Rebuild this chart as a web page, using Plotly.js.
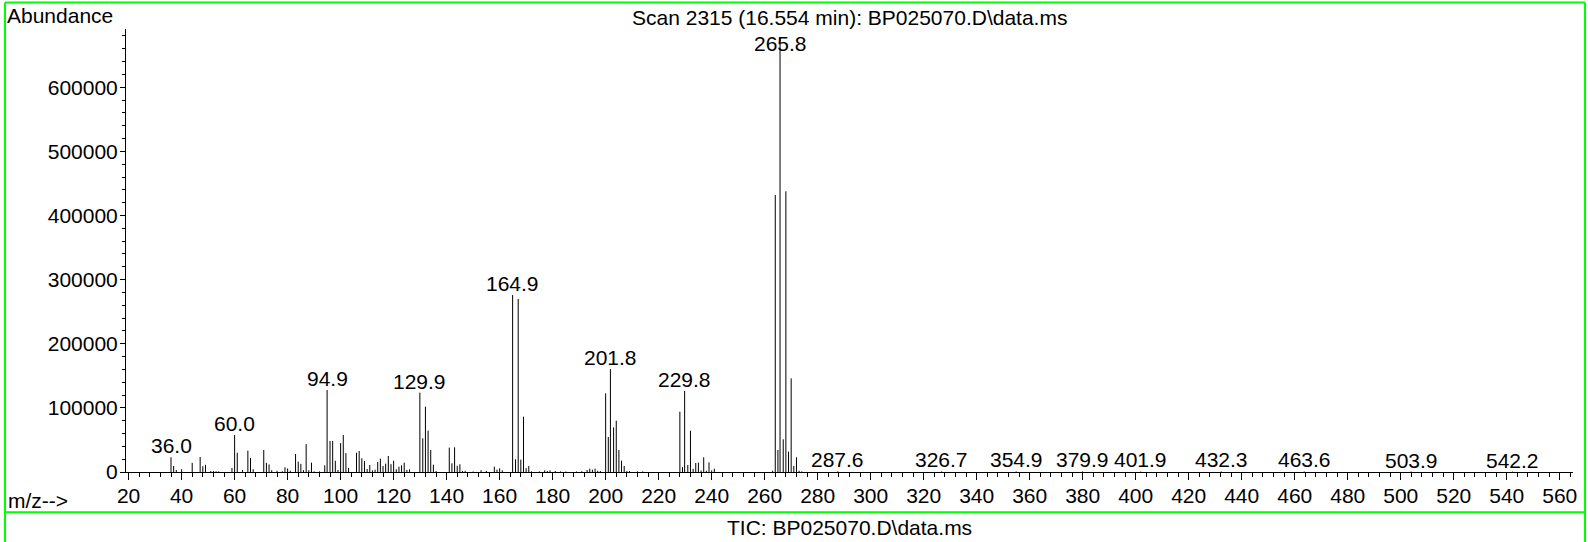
<!DOCTYPE html>
<html>
<head>
<meta charset="utf-8">
<script src="https://cdn.plot.ly/plotly-3.0.1.min.js"></script>
<style>
html,body{margin:0;padding:0;background:#fff;}
#chart{width:1588px;height:542px;}
</style>
</head>
<body>
<div id="chart"></div>
<script>
// m/z values of the spectrum sticks
const mz = [
  36.0, 37, 38, 40, 44, 47, 48, 49, 51, 52, 53, 54,
  59, 60.0, 61, 63, 65, 66, 67, 71, 72, 73, 74, 76, 78, 79, 80, 81, 83, 84, 85, 86, 87, 88, 89, 90, 92,
  94, 94.9, 96, 97, 98, 99, 100, 101, 102, 103, 106, 107, 108, 109, 110, 111, 112, 113, 114, 115, 116,
  117, 118, 119, 120, 121, 122, 123, 124, 125, 126,
  129.9, 131, 132, 133, 134, 135, 136, 141, 142, 143, 144, 145, 146, 147, 150, 153, 155, 158, 159, 160, 161,
  164.9, 166, 167, 168, 169, 170, 171, 172, 175, 177, 178, 179, 181, 183, 185, 189, 191,
  193, 194, 195, 196, 197, 198,
  200, 201, 201.8, 203, 204, 205, 206, 207, 208, 209, 212, 214,
  228, 229, 229.8, 231, 232, 233, 234, 235, 236, 237, 238, 239, 240, 241,
  263, 264, 265, 265.8, 267, 268, 269, 270, 271, 272, 273, 274,
  287.6, 326.7, 354.9, 379.9, 401.9, 432.3, 463.6, 503.9, 542.2
];
// abundance of each stick
const abundance = [
  23000, 9400, 3000, 4200, 14300, 23400, 9000, 11200, 1500, 1500, 1200, 1000,
  6200, 57700, 30000, 3100, 33300, 21800, 4400, 34300, 14300, 11700, 2800, 2000, 1200, 7300, 5500, 2000, 28000, 16100, 12700, 2800, 43500, 2800, 14600, 1000, 1000,
  10400, 128000, 48400, 48400, 17500, 3100, 45000, 57700, 29400, 6500, 30000, 32800, 21300, 17200, 4700, 10900, 2600, 3600, 15600, 20800, 9400,
  13000, 25000, 12200, 17500, 4200, 8300, 10400, 14600, 3100, 4200,
  123800, 52500, 101900, 64500, 34300, 11400, 1500, 38000, 13500, 38500, 9700, 12000, 1800, 1800, 800, 2900, 1800, 8300, 3600, 5700, 2600,
  276000, 19800, 270000, 19300, 86300, 6000, 9400, 1000, 1000, 2600, 1500, 2600, 1600, 1000, 800, 800, 1200,
  3100, 5200, 3600, 5200, 2000, 1500,
  122700, 54500, 160500, 69500, 80000, 34300, 17700, 9400, 1600, 1600, 1000, 1000,
  94000, 7500, 126600, 10900, 64300, 5000, 14000, 14600, 2500, 22900, 2000, 15000, 2500, 5000,
  2000, 432000, 34300, 677000, 51000, 437800, 31700, 146000, 9400, 22900, 2000, 1000,
  1000, 900, 900, 900, 800, 800, 800, 700, 700
];
// sticks that carry an m/z label
const labeledPeaks = [36.0, 60.0, 94.9, 129.9, 164.9, 201.8, 229.8, 265.8, 287.6, 326.7, 354.9, 379.9, 401.9, 432.3, 463.6, 503.9, 542.2];
const yTickVals = [0, 100000, 200000, 300000, 400000, 500000, 600000];
const xTickVals = [20, 40, 60, 80, 100, 120, 140, 160, 180, 200, 220, 240, 260, 280, 300, 320, 340, 360, 380, 400, 420, 440, 460, 480, 500, 520, 540, 560];

const titleText = 'Scan 2315 (16.554 min): BP025070.D\\data.ms';
const ticText = 'TIC: BP025070.D\\data.ms';

const FONT = 'Liberation Sans, Arial, sans-serif';
const W = 1588, H = 542;
const L = 126, R = 1573, T = 29, B = 472;
const pw = R - L, ph = B - T;
const px = v => (v - L) / pw;
const py = v => (B - v) / ph;

// stick segments
const sx = [], sy = [];
mz.forEach((m, i) => { sx.push(m, m, null); sy.push(0, abundance[i], null); });

const LABEL_CAP = 650000;
const annotations = labeledPeaks.map(m => {
  const i = mz.indexOf(m);
  return {
    x: m, y: Math.min(abundance[i], LABEL_CAP), xref: 'x', yref: 'y',
    text: m.toFixed(1), showarrow: false, xanchor: 'center', yanchor: 'bottom',
    yshift: -2, font: {family: FONT, size: 21, color: '#000'}
  };
});
annotations.push(
  {x: px(5), y: py(15), xref: 'paper', yref: 'paper', text: 'Abundance', showarrow: false,
   xanchor: 'left', yanchor: 'middle', font: {family: FONT, size: 21, color: '#000'}},
  {x: px(6), y: py(501), xref: 'paper', yref: 'paper', text: 'm/z-->', showarrow: false,
   xanchor: 'left', yanchor: 'middle', font: {family: FONT, size: 21, color: '#000'}},
  {x: 0.5, y: py(18), xref: 'paper', yref: 'paper', text: titleText, showarrow: false,
   xanchor: 'center', yanchor: 'middle', font: {family: FONT, size: 21, color: '#000'}},
  {x: 0.5, y: py(527), xref: 'paper', yref: 'paper', text: ticText, showarrow: false,
   xanchor: 'center', yanchor: 'middle', font: {family: FONT, size: 21, color: '#000'}}
);

const green = {color: 'rgb(0,255,0)', width: 2};
const shapes = [
  {type: 'line', xref: 'paper', yref: 'paper', x0: px(5), x1: px(1585), y0: py(2.5), y1: py(2.5), line: green},
  {type: 'line', xref: 'paper', yref: 'paper', x0: px(5), x1: px(5), y0: py(2.5), y1: py(542), line: green},
  {type: 'line', xref: 'paper', yref: 'paper', x0: px(1585), x1: px(1585), y0: py(2.5), y1: py(542), line: green},
  {type: 'line', xref: 'paper', yref: 'paper', x0: px(5), x1: px(1585), y0: py(512.3), y1: py(512.3), line: green}
];

const trace = {
  type: 'scatter', mode: 'lines', x: sx, y: sy,
  line: {color: '#000', width: 1}, hoverinfo: 'skip', connectgaps: false
};

const layout = {
  width: W, height: H,
  margin: {l: L, r: W - R, t: T, b: H - B, pad: 0},
  paper_bgcolor: '#fff', plot_bgcolor: '#fff',
  showlegend: false,
  font: {family: FONT, size: 21, color: '#000'},
  xaxis: {
    range: [19.02, 565], tickmode: 'array', tickvals: xTickVals, ticktext: xTickVals.map(String),
    ticks: 'outside', ticklen: 7, tickwidth: 1, tickcolor: '#000', ticklabelstandoff: -2,
    minor: {dtick: 4, tick0: 0, ticks: 'outside', ticklen: 4, tickwidth: 1, tickcolor: '#000', showgrid: false},
    showline: true, linecolor: '#000', linewidth: 1, showgrid: false, zeroline: false,
    tickfont: {family: FONT, size: 21, color: '#000'}
  },
  yaxis: {
    range: [0, 690900], tickmode: 'array', tickvals: yTickVals, ticktext: yTickVals.map(String),
    ticks: 'outside', ticklen: 5, tickwidth: 1, tickcolor: '#000', ticklabelstandoff: -2,
    minor: {dtick: 20000, tick0: 0, ticks: 'outside', ticklen: 3, tickwidth: 1, tickcolor: '#000', showgrid: false},
    showline: true, linecolor: '#000', linewidth: 1, showgrid: false, zeroline: false,
    tickfont: {family: FONT, size: 21, color: '#000'}
  },
  annotations: annotations,
  shapes: shapes
};

Plotly.newPlot('chart', [trace], layout, {displayModeBar: false, staticPlot: true});
</script>
</body>
</html>
